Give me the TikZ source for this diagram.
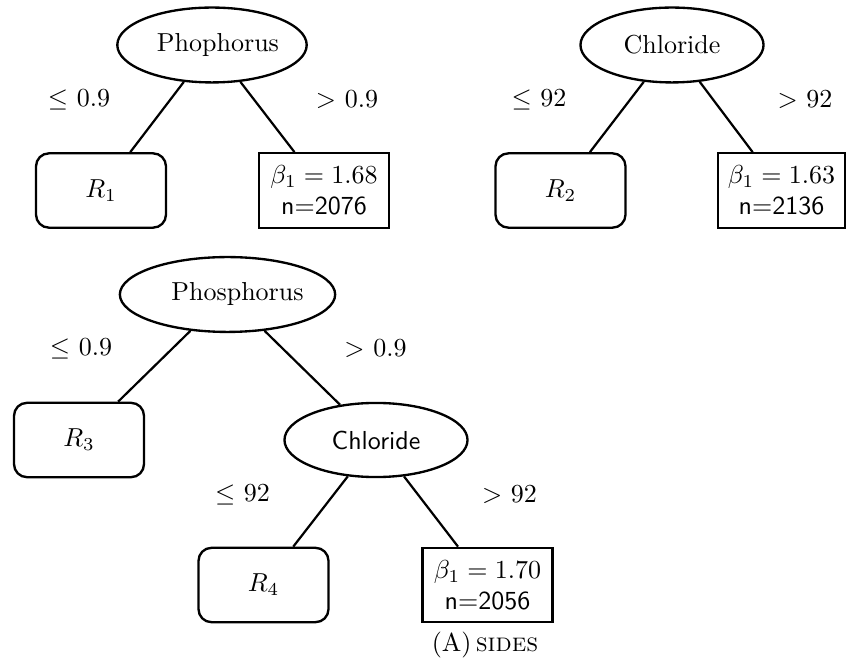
\documentclass[tikz,border=0pt]{standalone}
\usetikzlibrary{shapes.geometric}
\begin{document}
\begin{tikzpicture}[x=0.3846pt,y=-0.3846pt,
  splitnode/.style={ellipse,draw,line width=0.9pt,minimum width=70.4pt,
    minimum height=28.8pt,inner sep=0pt},
  regionbox/.style={draw,rounded corners=5pt,line width=0.9pt,
    minimum width=50pt,minimum height=28.6pt,inner sep=0pt},
  leafbox/.style={draw,line width=0.9pt,minimum width=50pt,
    minimum height=28.6pt,inner sep=0pt,align=center},
  branch/.style={line width=0.85pt},
  cutlabel/.style={inner sep=0pt}]
\useasboundingbox (0,0) rectangle (846,669);

% tree on phosphorus alone
\node[splitnode] (p1) at (212,45) {\hspace{4.6pt}Phophorus};
\node[regionbox] (r1) at (101,190.5) {$R_1$};
\node[leafbox] (l1) at (324,190.5) {$\beta_1=1.68$\\\textsf{n=2076}};
\draw[branch] (p1) -- (r1);
\draw[branch] (p1) -- (l1);
\node[cutlabel] (c1a) at (79,100) {$\leq$ $0.9$};
\node[cutlabel] (c1b) at (347,100) {$>$ $0.9$};

% tree on chloride alone
\node[splitnode] (p2) at (672,45) {Chloride};
\node[regionbox] (r2) at (560.5,190.5) {$R_2$};
\node[leafbox,minimum width=48.8pt] (l2) at (781.5,190.5) {$\beta_1=1.63$\\\textsf{n=2136}};
\draw[branch] (p2) -- (r2);
\draw[branch] (p2) -- (l2);
\node[cutlabel] (c2a) at (539,100) {$\leq$ $92$};
\node[cutlabel] (c2b) at (805,100) {$>$ $92$};

% tree on phosphorus, then chloride
\node[splitnode,minimum width=71.2pt] (p3) at (227.5,294.5) {\hspace{7.7pt}Phosphorus};
\node[regionbox] (r3) at (79,440) {$R_3$};
\node[splitnode,minimum height=28.5pt] (q3) at (376,440) {\textsf{Chloride}};
\draw[branch] (p3) -- (r3);
\draw[branch] (p3) -- (q3);
\node[cutlabel] (c3a) at (81,349) {$\leq$ $0.9$};
\node[cutlabel] (c3b) at (375.5,349) {$>$ $0.9$};

\node[regionbox] (r4) at (263.5,585) {$R_4$};
\node[leafbox] (l4) at (487.5,585) {$\beta_1=1.70$\\\textsf{n=2056}};
\draw[branch] (q3) -- (r4);
\draw[branch] (q3) -- (l4);
\node[cutlabel] (c4a) at (242.5,495) {$\leq$ $92$};
\node[cutlabel] (c4b) at (509.5,495) {$>$ $92$};

\node[cutlabel] (cap) at (485,645) {(A)\,\textsc{sides}};
\end{tikzpicture}
\end{document}
